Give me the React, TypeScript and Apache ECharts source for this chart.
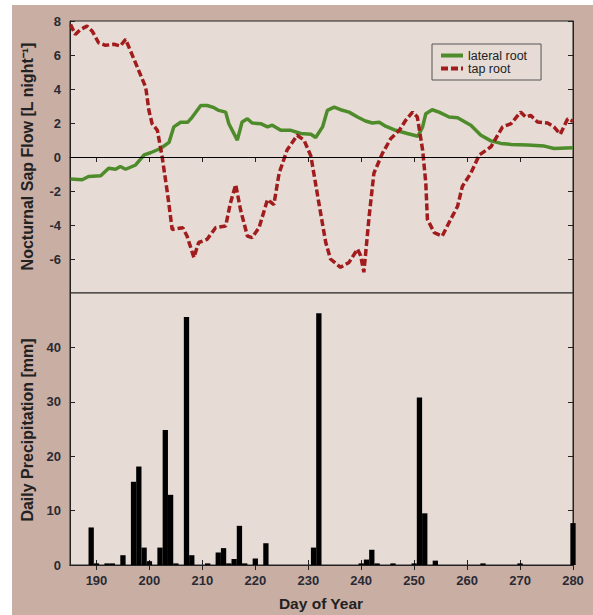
import React, { useEffect, useRef } from "react";
import * as echarts from "echarts";

// ---- Data ----
const lateralDays = [185.1,187.3,188.5,190.8,192.3,193.6,194.5,195.5,197.4,199,200.2,202.1,203.7,204.6,205.9,207.2,208.1,209.7,210.9,212.2,213.1,214.4,215,216.6,217.5,218.5,219.4,221,222.3,223.2,224.8,226.7,228.6,230.5,231.4,232.7,233.6,234.9,236.1,237.7,239.3,240.8,242.1,243.4,244.6,246.5,248.7,250.7,251.6,252.2,253.4,254.7,256.6,258.2,260.7,262.6,264.5,266.4,268.3,271.4,274.6,276.4,280];
const lateralFlow = [-1.3,-1.34,-1.15,-1.1,-0.66,-0.72,-0.56,-0.72,-0.47,0.12,0.25,0.5,0.86,1.77,2.04,2.04,2.35,3.03,3.03,2.9,2.74,2.64,1.96,0.99,2.06,2.25,2.0,1.96,1.77,1.87,1.57,1.57,1.38,1.34,1.15,1.77,2.74,2.93,2.78,2.64,2.35,2.12,2.0,2.04,1.81,1.57,1.38,1.22,1.77,2.55,2.78,2.64,2.35,2.31,1.87,1.28,0.95,0.8,0.74,0.7,0.64,0.5,0.54];

const tapDays = [185.1,186,187,188.2,189.2,190.4,191.7,193.3,194.5,195.5,196.7,198,199.3,199.9,200.5,201.5,202.4,203.4,204.3,206.3,207.1,208.4,209.3,210.9,212.5,214.4,215.3,216.3,217.2,218.5,219.4,220.7,222.3,223.5,224.5,226,227.9,229.2,230.5,232,233.3,234.2,236.1,237.7,239.3,239.9,240.5,241.5,242.4,244,245.6,247.2,248.4,249.7,250.6,251.6,252.2,252.5,253.8,255.3,256.9,258.2,259.1,260.7,262.3,264.5,266.7,268.3,270.1,271.1,272,273.3,275.2,276.4,277.6,279,280];
const tapFlow = [7.79,7.21,7.5,7.7,7.4,6.72,6.57,6.63,6.53,6.92,6.04,5.07,4.1,2.74,1.96,1.57,0.02,-2.12,-4.26,-4.16,-4.65,-5.91,-5.03,-4.84,-4.16,-4.06,-2.7,-1.63,-3.09,-4.65,-4.74,-4.16,-2.51,-2.8,-0.95,0.41,1.28,0.99,0.05,-2.7,-5.03,-6.0,-6.49,-6.2,-5.42,-5.81,-6.78,-3.48,-0.95,0.21,1.09,1.57,2.16,2.64,2.35,0.41,-1.54,-3.67,-4.45,-4.65,-3.67,-2.9,-1.73,-0.95,0.12,0.6,1.77,1.96,2.64,2.35,2.45,2.06,2.0,1.77,1.34,2.25,2.1];

const precipDays = [189,190,192,193,195,197,198,199,200,202,203,204,205,207,208,211,213,214,215,216,217,218,220,222,231,232,240,241,242,243,246,250,251,252,254,263,270,280];
const precipMm = [6.9,0.3,0.3,0.3,1.8,15.3,18.1,3.2,0.7,3.2,24.8,12.9,0.3,45.6,1.8,0.3,2.3,3.1,0.3,1.1,7.2,0.3,1.2,4.0,3.2,46.3,0.3,1.0,2.8,0.3,0.3,0.3,30.8,9.5,0.8,0.3,0.3,7.7];

const dayTicks = [190,200,210,220,230,240,250,260,270,280];
const flowTicks = [-6,-4,-2,0,2,4,6,8];
const precipTicks = [0,10,20,30,40];

const FONT = "'Liberation Sans', Arial, Helvetica, sans-serif";
const PLOT_BG = "#e6dbd5";
const AXIS = "#222";
const GREEN = "#4e8c2b";
const RED = "#a11d1d";

export default function App() {
  const ref = useRef<HTMLDivElement>(null);
  useEffect(() => {
    if (!ref.current) return;
    const chart = echarts.init(ref.current, undefined, { renderer: "svg" });

    const tickCommon = { inside: true, length: 5, lineStyle: { color: AXIS, width: 1 } };
    const lineCommon = { show: true, lineStyle: { color: AXIS, width: 1 } };
    const labelStyle = { color: "#2a2a33", fontSize: 13, fontWeight: "bold" as const, fontFamily: FONT };

    const xBase = (gridIndex: number, position: string, showLabel: boolean) => ({
      type: "value",
      gridIndex,
      position,
      min: 185,
      max: 280,
      axisLine: lineCommon,
      axisTick: { ...tickCommon, customValues: dayTicks },
      axisLabel: { show: showLabel, customValues: dayTicks, margin: 9, ...labelStyle },
      splitLine: { show: false },
    });

    const option: any = {
      animation: false,
      backgroundColor: "transparent",
      grid: [
        { left: 70, top: 21, width: 503, height: 272, show: true, backgroundColor: PLOT_BG, borderColor: AXIS, borderWidth: 1 },
        { left: 70, top: 293, width: 503, height: 272, show: true, backgroundColor: PLOT_BG, borderColor: AXIS, borderWidth: 1 },
      ],
      xAxis: [
        xBase(0, "top", false),
        xBase(1, "bottom", true),
        xBase(1, "top", false),
      ],
      yAxis: [
        {
          type: "value", gridIndex: 0, position: "left", min: -8, max: 8, interval: 2,
          axisLine: lineCommon,
          axisTick: { ...tickCommon, customValues: flowTicks },
          axisLabel: { customValues: flowTicks, margin: 9, ...labelStyle },
          splitLine: { show: false },
        },
        {
          type: "value", gridIndex: 0, position: "right", min: -8, max: 8, interval: 2,
          axisLine: lineCommon,
          axisTick: { ...tickCommon, customValues: flowTicks },
          axisLabel: { show: false },
          splitLine: { show: false },
        },
        {
          type: "value", gridIndex: 1, position: "left", min: 0, max: 50, interval: 10,
          axisLine: lineCommon,
          axisTick: { ...tickCommon, customValues: precipTicks },
          axisLabel: { customValues: precipTicks, margin: 9, ...labelStyle },
          splitLine: { show: false },
        },
        {
          type: "value", gridIndex: 1, position: "right", min: 0, max: 50, interval: 10,
          axisLine: lineCommon,
          axisTick: { ...tickCommon, customValues: precipTicks },
          axisLabel: { show: false },
          splitLine: { show: false },
        },
      ],
      legend: {
        left: 432,
        top: 44,
        orient: "vertical",
        padding: [5, 14, 5, 7],
        itemGap: 0,
        itemWidth: 22,
        itemHeight: 12,
        backgroundColor: PLOT_BG,
        borderColor: "#555",
        borderWidth: 1,
        itemStyle: { opacity: 0 },
        lineStyle: { width: 4 },
        textStyle: { fontSize: 12.5, color: "#222", fontFamily: FONT },
        data: ["lateral root", "tap root"],
      },
      series: [
        {
          name: "lateral root",
          type: "line",
          xAxisIndex: 0,
          yAxisIndex: 0,
          symbol: "none",
          showSymbol: false,
          data: lateralDays.map((d, i) => [d, lateralFlow[i]]),
          lineStyle: { color: GREEN, width: 3.5 },
          itemStyle: { color: GREEN },
          markLine: {
            silent: true,
            symbol: ["none", "none"],
            label: { show: false },
            lineStyle: { color: "#000", width: 1, type: "solid" },
            data: [{ yAxis: 0 }],
          },
          z: 3,
        },
        {
          name: "tap root",
          type: "line",
          xAxisIndex: 0,
          yAxisIndex: 0,
          symbol: "none",
          showSymbol: false,
          data: tapDays.map((d, i) => [d, tapFlow[i]]),
          lineStyle: { color: RED, width: 3.5, type: [7, 3] },
          itemStyle: { color: RED },
          z: 4,
        },
        {
          name: "precip",
          type: "bar",
          xAxisIndex: 1,
          yAxisIndex: 2,
          barWidth: 5.3,
          data: precipDays.map((d, i) => [d, precipMm[i]]),
          itemStyle: { color: "#000" },
        },
      ],
      graphic: [
        {
          type: "text", x: 27.5, y: 156.5, rotation: Math.PI / 2,
          style: { text: "Nocturnal Sap Flow [L night\u207B\u00B9]", font: `bold 16px ${FONT}`, fill: "#222", align: "center", verticalAlign: "middle" },
        },
        {
          type: "text", x: 27.5, y: 430, rotation: Math.PI / 2,
          style: { text: "Daily Precipitation [mm]", font: `bold 16px ${FONT}`, fill: "#222", align: "center", verticalAlign: "middle" },
        },
        {
          type: "text", x: 321, y: 603,
          style: { text: "Day of Year", font: `bold 15.5px ${FONT}`, fill: "#222", align: "center", verticalAlign: "middle" },
        },
      ],
    };
    chart.setOption(option);
    return () => chart.dispose();
  }, []);

  return (
    <div style={{ position: "absolute", left: 0, top: 0, width: 593, height: 615, background: "#fff" }}>
      <div style={{ position: "absolute", left: 12, top: 5, right: 0, bottom: 0, background: "#c9aea4" }} />
      <div ref={ref} style={{ position: "absolute", left: 0, top: 0, width: 593, height: 615 }} />
    </div>
  );
}
